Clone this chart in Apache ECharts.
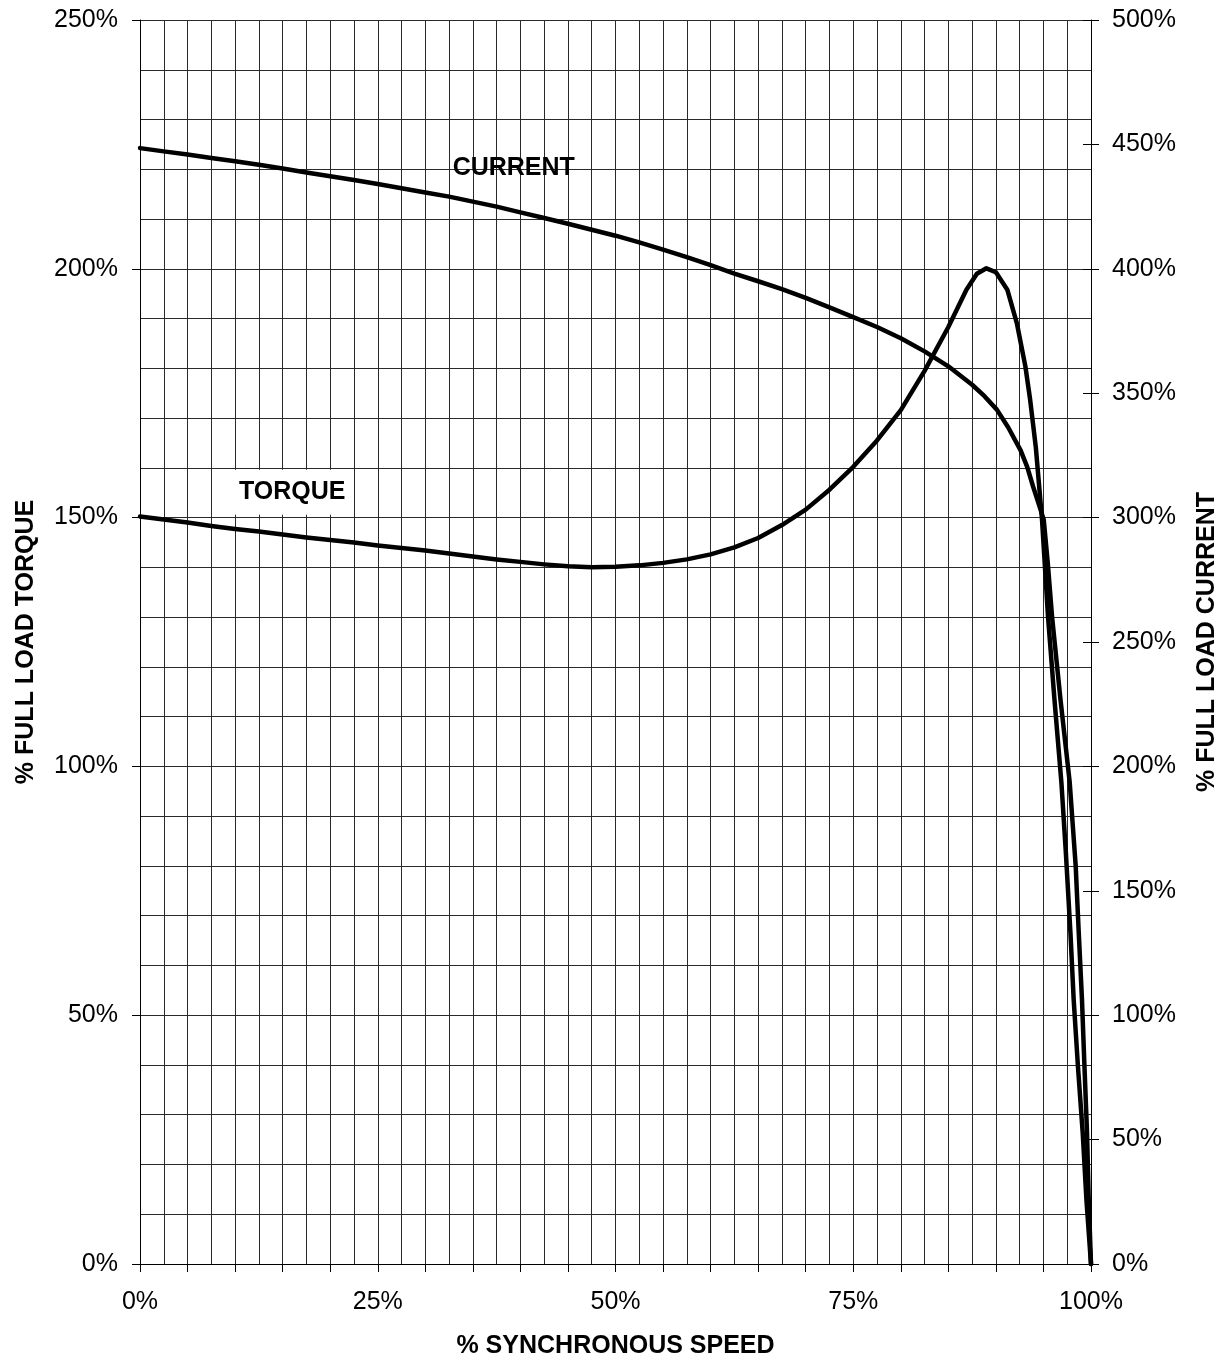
<!DOCTYPE html>
<html>
<head>
<meta charset="utf-8">
<script src="https://cdn.jsdelivr.net/npm/echarts@6/dist/echarts.min.js"></script>
<style>
html,body{margin:0;padding:0;background:#fff;}
#chart{width:1228px;height:1364px;}
</style>
</head>
<body>
<div id="chart"></div>
<script>
// % synchronous speed (x) and % full load torque (left axis)
const torqueSpeed = [0,2.5,5,7.5,10,12.5,15,17.5,20,22.5,25,27.5,30,32.5,35,37.5,40,42.5,45,47.5,50,52.5,55,57.5,60,62.5,65,67.5,70,72.5,75,77.5,80,82.5,85,86.9,88,89,90,91.2,92.2,93.1,93.6,94.2,94.85,95.48,96.16,96.89,97.34,97.84,98.18,98.63,99.13,99.52,100];
const torqueValues = [150.2,149.6,149,148.3,147.7,147.2,146.6,146,145.5,145,144.4,143.9,143.4,142.8,142.2,141.6,141.1,140.6,140.2,140,140.1,140.4,140.9,141.6,142.6,144,145.9,148.5,151.6,155.6,160.2,165.5,171.6,179.5,188.3,195.8,199,200.1,199.3,195.8,189.1,180.4,173.7,164.1,149.6,130.1,113.4,96.7,83.2,66.5,53.1,39.6,26.3,12.9,0];

// % synchronous speed (x) and % full load current (right axis)
const currentSpeed = [0,2.5,5,7.5,10,12.5,15,17.5,20,22.5,25,27.5,30,32.5,35,37.5,40,42.5,45,47.5,50,52.5,55,57.5,60,62.5,65,67.5,70,72.5,75,77.5,80,82.5,85,87.5,88.8,90.1,91.3,92.6,93.3,93.9,94.5,95.03,95.45,95.9,96.79,97.76,98.39,98.71,99.05,99.31,99.58,99.76,100];
const currentValues = [448.5,447.2,445.9,444.5,443.2,441.8,440.3,438.7,437.2,435.7,434.1,432.4,430.7,429,427,425,422.7,420.4,418.1,415.7,413.3,410.6,407.7,404.7,401.5,398.1,395,391.8,388.3,384.5,380.6,376.6,372.1,366.8,360.8,353.4,348.8,343.4,336.2,327,320.3,312.6,305.5,299.2,282,260.4,226.9,193.6,160,133.3,106.4,79.6,53,26.1,0];

// curve labels: [speed, value]
const torqueLabel = {text: 'TORQUE', at: [16.0, 155.1]};
const currentLabel = {text: 'CURRENT', at: [39.3, 440.5]};

const FONT = '"Liberation Sans", Arial, sans-serif';
const gridColor = '#2a2a2a';

const chart = echarts.init(document.getElementById('chart'), null, {renderer: 'canvas'});

function pairs(xs, ys){ return xs.map((x,i)=>[x, ys[i]]); }

const option = {
  animation: false,
  backgroundColor: '#fff',
  grid: {left: 140, right: 136, top: 20, bottom: 100, containLabel: false},
  xAxis: {
    type: 'value', min: 0, max: 100, interval: 5,
    name: '% SYNCHRONOUS SPEED', nameLocation: 'middle', nameGap: 70,
    nameTextStyle: {fontFamily: FONT, fontSize: 25, fontWeight: 'bold', color: '#000'},
    axisLine: {show: true, lineStyle: {color: '#000', width: 1}},
    axisTick: {show: true, length: 8, lineStyle: {color: '#000'}},
    axisLabel: {margin: 26, fontFamily: FONT, fontSize: 25, color: '#000',
      formatter: v => (Math.round(v) % 25 === 0 ? v + '%' : '')},
    splitLine: {show: true, lineStyle: {color: gridColor, width: 1}},
    minorTick: {show: false, splitNumber: 2},
    minorSplitLine: {show: true, lineStyle: {color: gridColor, width: 1}}
  },
  yAxis: [
    {
      type: 'value', position: 'left', min: 0, max: 250, interval: 50,
      name: '% FULL LOAD TORQUE', nameLocation: 'middle', nameGap: 101, nameRotate: 90,
      nameTextStyle: {fontFamily: FONT, fontSize: 25, fontWeight: 'bold', color: '#000'},
      axisLine: {show: true, lineStyle: {color: '#000', width: 1}},
      axisTick: {show: true, length: 8, lineStyle: {color: '#000'}},
      axisLabel: {margin: 22, fontFamily: FONT, fontSize: 25, color: '#000', formatter: '{value}%'},
      splitLine: {show: true, lineStyle: {color: gridColor, width: 1}},
      minorTick: {show: false, splitNumber: 5},
      minorSplitLine: {show: true, lineStyle: {color: gridColor, width: 1}}
    },
    {
      type: 'value', position: 'right', min: 0, max: 500, interval: 50,
      name: '% FULL LOAD CURRENT', nameLocation: 'middle', nameGap: 104, nameRotate: 90,
      nameTextStyle: {fontFamily: FONT, fontSize: 25, fontWeight: 'bold', color: '#000'},
      axisLine: {show: true, lineStyle: {color: '#000', width: 1}},
      axisTick: {show: true, length: 8, lineStyle: {color: '#000'}},
      axisLabel: {margin: 21, fontFamily: FONT, fontSize: 25, color: '#000', formatter: '{value}%'},
      splitLine: {show: false}
    },
    {
      type: 'value', position: 'right', min: 0, max: 500, interval: 50,
      axisLine: {show: false},
      axisTick: {show: true, inside: true, length: 8, lineStyle: {color: '#000'}},
      axisLabel: {show: false},
      splitLine: {show: false}
    }
  ],
  series: [
    {
      name: 'TORQUE', type: 'line', yAxisIndex: 0, showSymbol: false, clip: false,
      data: pairs(torqueSpeed, torqueValues),
      lineStyle: {color: '#000', width: 4.5, join: 'round', cap: 'round'},
      markPoint: {
        symbol: 'rect', symbolSize: 0, silent: true,
        label: {show: true, position: 'inside', formatter: torqueLabel.text,
          fontFamily: FONT, fontSize: 25, fontWeight: 'bold', color: '#000',
          backgroundColor: '#fff', padding: [10, 8]},
        data: [{coord: torqueLabel.at}]
      },
      z: 3
    },
    {
      name: 'CURRENT', type: 'line', yAxisIndex: 1, showSymbol: false, clip: false,
      data: pairs(currentSpeed, currentValues),
      lineStyle: {color: '#000', width: 4.5, join: 'round', cap: 'round'},
      markPoint: {
        symbol: 'rect', symbolSize: 0, silent: true,
        label: {show: true, position: 'inside', formatter: currentLabel.text,
          fontFamily: FONT, fontSize: 25, fontWeight: 'bold', color: '#000'},
        data: [{coord: currentLabel.at}]
      },
      z: 3
    }
  ]
};
chart.setOption(option);
</script>
</body>
</html>
